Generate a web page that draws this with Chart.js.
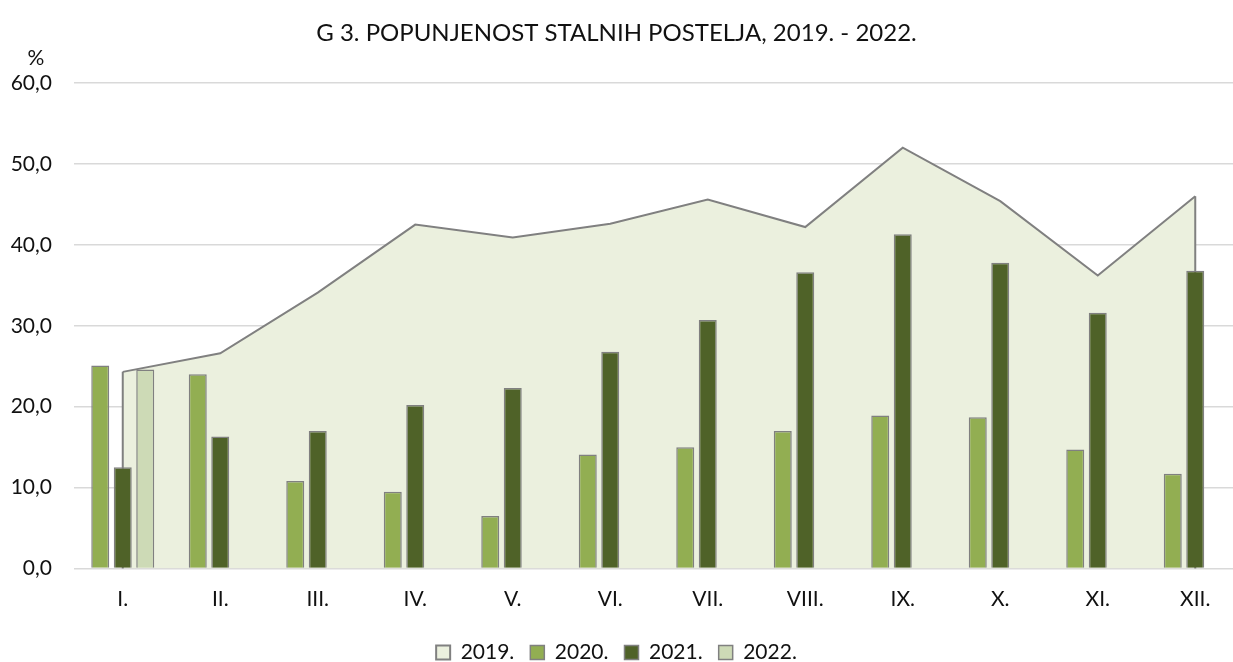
<!DOCTYPE html>
<html>
<head>
<meta charset="utf-8">
<script src="https://cdn.jsdelivr.net/npm/chart.js@4.4.1/dist/chart.umd.min.js"></script>
<style>
    html, body { margin: 0; padding: 0; background: #fff; overflow: hidden; }
</style>
</head>
<body>
<canvas id="chartPostelje" width="1233" height="662"></canvas>
<script>
const months = ['I.', 'II.', 'III.', 'IV.', 'V.', 'VI.', 'VII.', 'VIII.', 'IX.', 'X.', 'XI.', 'XII.'];
const years = ['2019.', '2020.', '2021.', '2022.'];
const values2019 = [24.3, 26.6, 34.1, 42.5, 40.9, 42.6, 45.6, 42.2, 52.0, 45.4, 36.2, 46.0];
const values2020 = [25.1, 24.0, 10.8, 9.5, 6.5, 14.1, 15.0, 17.0, 18.9, 18.7, 14.7, 11.7];
const values2021 = [12.5, 16.3, 17.0, 20.2, 22.3, 26.8, 30.7, 36.6, 41.3, 37.8, 31.6, 36.8];
const values2022 = [24.6, null, null, null, null, null, null, null, null, null, null, null];
const yMin = 0, yMax = 60, yStep = 10;

const FONT = 'Lato, "Liberation Sans", sans-serif';
const TEXT = '#111';
const EDGE = '#808080';

// plot in the original runs a bit past the right edge of the picture
const EXTRA_RIGHT = 11;
const extendPlotRight = {
    id: 'extendPlotRight',
    afterLayout(chart) {
        const x = chart.scales.x;
        x.right += EXTRA_RIGHT;
        x.width += EXTRA_RIGHT;
        x.configure();
        chart.chartArea.right += EXTRA_RIGHT;
        chart.chartArea.width += EXTRA_RIGHT;
    }
};

// Excel-style area: closing vertical edges at both ends
const areaEdges = {
    id: 'areaEdges',
    afterDatasetDraw(chart, args) {
        if (args.index !== 0) return;
        const pts = args.meta.data;
        const base = chart.scales.y.getPixelForValue(0);
        const ctx = chart.ctx;
        ctx.save();
        ctx.strokeStyle = EDGE;
        ctx.lineWidth = 2;
        ctx.beginPath();
        ctx.moveTo(pts[0].x, pts[0].y);
        ctx.lineTo(pts[0].x, base);
        const last = pts[pts.length - 1];
        ctx.moveTo(last.x, last.y);
        ctx.lineTo(last.x, base);
        ctx.stroke();
        ctx.restore();
    }
};

const percentLabel = {
    id: 'percentLabel',
    afterDraw(chart) {
        const ctx = chart.ctx;
        ctx.save();
        ctx.font = '21px ' + FONT;
        ctx.fillStyle = TEXT;
        ctx.textAlign = 'center';
        ctx.textBaseline = 'middle';
        ctx.fillText('%', 36, chart.chartArea.top - 25);
        ctx.restore();
    }
};

const ctxPostelje = document.getElementById('chartPostelje');
const chartPostelje = new Chart(ctxPostelje, {
    type: 'bar',
    data: {
        labels: months,
        datasets: [{
            type: 'line',
            label: years[0],
            data: values2019,
            fill: 'origin',
            backgroundColor: '#EBF0DE',
            borderColor: EDGE,
            borderWidth: 2,
            pointRadius: 0,
            tension: 0,
            order: 1
        }, {
            label: years[1],
            data: values2020,
            backgroundColor: '#92AE52',
            borderColor: EDGE,
            borderWidth: 1.5,
            order: 0
        }, {
            label: years[2],
            data: values2021,
            backgroundColor: '#4F6228',
            borderColor: EDGE,
            borderWidth: 1.5,
            order: 0
        }, {
            label: years[3],
            data: values2022,
            backgroundColor: '#CDDAB6',
            borderColor: EDGE,
            borderWidth: 1.5,
            order: 0
        }]
    },
    options: {
        responsive: false,
        animation: false,
        datasets: {
            bar: { categoryPercentage: 0.692, barPercentage: 0.8 }
        },
        layout: { padding: { left: 0, right: 0, top: 0, bottom: -11 } },
        plugins: {
            tooltip: { enabled: false },
            title: {
                display: true,
                text: 'G 3. POPUNJENOST STALNIH POSTELJA, 2019. - 2022.',
                color: TEXT,
                font: { family: FONT, size: 24, weight: 'normal' },
                padding: { top: 18.6, bottom: 35.6 }
            },
            legend: {
                position: 'bottom',
                labels: {
                    color: TEXT,
                    font: { family: FONT, size: 21 },
                    boxWidth: 14,
                    boxHeight: 14,
                    padding: 16,
                    sort: (a, b) => a.datasetIndex - b.datasetIndex
                }
            }
        },
        scales: {
            x: {
                grid: { display: false, drawTicks: false },
                border: { display: false },
                ticks: {
                    color: TEXT,
                    font: { family: FONT, size: 21 },
                    padding: 18,
                    maxRotation: 0,
                    autoSkip: false
                },
                afterFit(scale) { scale.height = 57.5; }
            },
            y: {
                min: yMin,
                max: yMax,
                border: { display: false },
                grid: { color: '#D9D9D9', lineWidth: 1.5, drawTicks: false },
                ticks: {
                    stepSize: yStep,
                    color: TEXT,
                    font: { family: FONT, size: 21 },
                    padding: 22,
                    callback: v => v.toFixed(1).replace('.', ',')
                },
                afterFit(scale) { scale.width = 74; }
            }
        }
    },
    plugins: [extendPlotRight, areaEdges, percentLabel]
});
</script>
</body>
</html>
